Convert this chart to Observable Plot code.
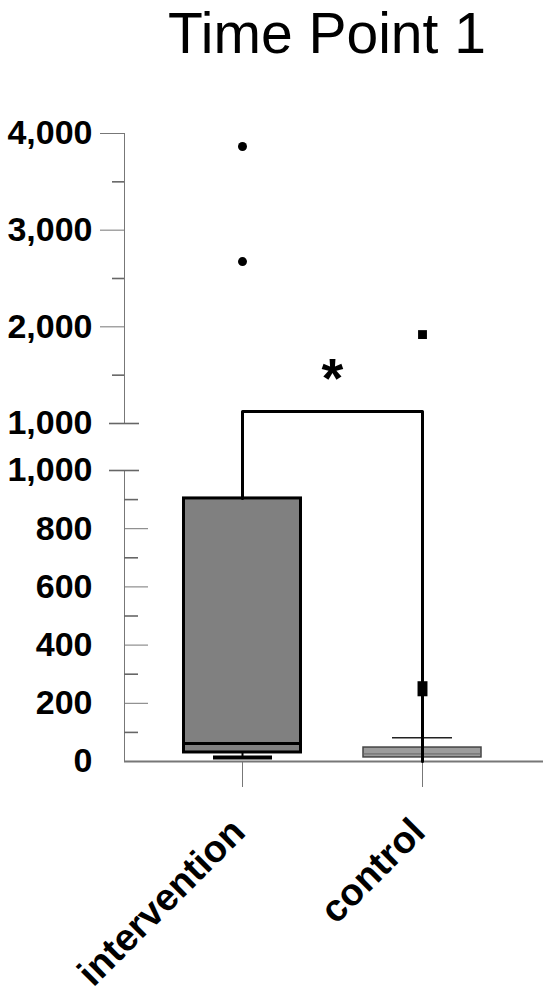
<!DOCTYPE html>
<html><head><meta charset="utf-8">
<script src="https://cdn.jsdelivr.net/npm/d3@7"></script>
<script src="https://cdn.jsdelivr.net/npm/@observablehq/plot@0.6"></script>
<style>
body{margin:0;background:#fff;}
#wrap{position:relative;width:550px;height:994px;font-family:"Liberation Sans",Arial,sans-serif;overflow:hidden;}
#wrap svg{position:absolute;left:0;top:0;}
#title{position:absolute;left:114px;width:426px;text-align:center;top:0;font-size:57px;line-height:normal;color:#000;white-space:nowrap;}
</style></head><body>
<div id="wrap"><div id="title">Time Point 1</div></div>
<script>
// ---- data ----
const categories = ["intervention", "control"];
const q1 = [31, 14];
const median = [62, 26];
const q3 = [904, 48];
const whiskerLow = [14, null];
const whiskerHigh = [null, 82];
const outlierGroup = ["intervention", "intervention", "control"];
const outlierValue = [3865, 2675, 1920];
const outlierShape = ["circle", "circle", "square"];
const markGroup = ["control"];
const markValue = [250];
const bracketLevel = 1124;
const significance = "*";
const topTicks = [1000, 2000, 3000, 4000];
const topMinor = [1500, 2500, 3500];
const bottomTicks = [0, 200, 400, 600, 800, 1000];
const bottomMinor = [100, 300, 500, 700, 900];

// ---- layout ----
const W = 550, H = 994;
const leftM = 124, rightM = 7;
const frameW = W - leftM - rightM;
const topSeg = {top: 133, bottom: 423};
const botSeg = {top: 470, bottom: 761};
const xRange = [152, 512];
const font = "Liberation Sans, Arial, sans-serif";
const tickStroke = "#666";
const axisStroke = "#777";

const boxes = categories.map((c, i) => ({cat: c, q1: q1[i], med: median[i], q3: q3[i], lo: whiskerLow[i], hi: whiskerHigh[i]}));
const outliers = outlierGroup.map((g, i) => ({cat: g, v: outlierValue[i], s: outlierShape[i]}));
const extraMarks = markGroup.map((g, i) => ({cat: g, v: markValue[i]}));

const yBot = Plot.scale({y: {domain: [0, 1000], range: [botSeg.bottom, botSeg.top]}});
const yTop = Plot.scale({y: {domain: [1000, 4000], range: [topSeg.bottom, topSeg.top]}});
const toTop = v => yTop.invert(yBot.apply(v));

const tallRect = {draw(ctx, size) { const s = Math.sqrt(size); const w = s * 0.33, h = s / 2;
  ctx.moveTo(-w, -h); ctx.lineTo(w, -h); ctx.lineTo(w, h); ctx.lineTo(-w, h); ctx.closePath(); }};

const styleBase = {background: "transparent", overflow: "visible", fontFamily: font, color: axisStroke};
const tickRule = (ticks, out, inn) => Plot.ruleY(ticks, {y: d => d, stroke: tickStroke, strokeWidth: 1.6, insetLeft: -out, insetRight: frameW - inn});
const yLabels = ticks => Plot.text(ticks, {y: d => d, text: d => d3.format(",")(d), frameAnchor: "left", dx: -32, textAnchor: "end", fontSize: 34, fontWeight: "bold", fill: "#000"});

const bottomPlot = Plot.plot({
  width: W, height: H,
  marginLeft: leftM, marginRight: rightM, marginTop: botSeg.top, marginBottom: H - botSeg.bottom,
  style: styleBase,
  x: {type: "band", domain: categories, range: xRange, padding: 0, tickSize: 26, tickFormat: () => "", label: null},
  y: {domain: [0, 1000], range: [botSeg.bottom, botSeg.top], ticks: bottomTicks.filter(t => t > 0 && t < 1000), tickSize: -24, tickFormat: () => "", line: true, label: null},
  marks: [
    Plot.barY(boxes.slice(0, 1), {x: "cat", y1: "q1", y2: "q3", fill: "#808080", stroke: "#000", strokeWidth: 3, insetLeft: 31.5, insetRight: 31.5}),
    Plot.tickY(boxes.slice(0, 1), {x: "cat", y: "med", stroke: "#000", strokeWidth: 3, insetLeft: 31.5, insetRight: 31.5}),
    Plot.ruleX(boxes.filter(d => d.lo != null), {x: "cat", y1: "lo", y2: "q1", stroke: "#000", strokeWidth: 2}),
    Plot.tickY(boxes.filter(d => d.lo != null), {x: "cat", y: "lo", stroke: "#000", strokeWidth: 4, insetLeft: 61, insetRight: 60}),
    Plot.barY(boxes.slice(1), {x: "cat", y1: "q1", y2: "q3", fill: "#9c9c9c", stroke: "#444", strokeWidth: 1.5, insetLeft: 31, insetRight: 31}),
    Plot.tickY(boxes.slice(1), {x: "cat", y: "med", stroke: "#666", strokeWidth: 1, insetLeft: 31, insetRight: 31}),
    Plot.tickY(boxes.filter(d => d.hi != null), {x: "cat", y: "hi", stroke: "#222", strokeWidth: 1.5, insetLeft: 60, insetRight: 60}),
    Plot.ruleY([0], {stroke: axisStroke, strokeWidth: 1.8}),
    tickRule(bottomMinor, 0, 14),
    tickRule([1000], 15, 15),
    yLabels(bottomTicks),
    Plot.text(categories, {x: d => d, text: d => d, frameAnchor: "bottom", dy: 64, dx: -4, rotate: -45, textAnchor: "end", lineAnchor: "middle", fontSize: 38, fontWeight: "bold", fill: "#000"})
  ]
});

const bracket = [
  {cat: categories[0], v: toTop(q3[0])},
  {cat: categories[0], v: bracketLevel},
  {cat: categories[1], v: bracketLevel},
  {cat: categories[1], v: toTop(0)}
];

const topPlot = Plot.plot({
  width: W, height: H,
  marginLeft: leftM, marginRight: rightM, marginTop: topSeg.top, marginBottom: H - topSeg.bottom,
  style: styleBase,
  x: {type: "band", domain: categories, range: xRange, padding: 0, axis: null},
  y: {domain: [1000, 4000], range: [topSeg.bottom, topSeg.top], ticks: topTicks.slice(1), tickSize: 24, tickFormat: () => "", line: true, label: null},
  marks: [
    tickRule(topMinor, 12, 0),
    tickRule([1000], 15, 15),
    yLabels(topTicks),
    Plot.line(bracket, {x: "cat", y: "v", stroke: "#000", strokeWidth: 3}),
    Plot.dot(extraMarks, {x: "cat", y: d => toTop(d.v), r: 8.5, symbol: tallRect, fill: "#000", stroke: "none"}),
    Plot.dot(outliers.filter(d => d.s === "circle"), {x: "cat", y: "v", r: 4.5, fill: "#000", stroke: "none", symbol: "circle"}),
    Plot.dot(outliers.filter(d => d.s === "square"), {x: "cat", y: "v", r: 5, fill: "#000", stroke: "none", symbol: "square"}),
    Plot.text([significance], {x: () => categories[1], dx: -90, y: () => bracketLevel + 150, text: d => d, fontSize: 56, fontWeight: "bold", lineAnchor: "bottom", fill: "#000"})
  ]
});

const wrap = document.getElementById("wrap");
wrap.appendChild(bottomPlot);
wrap.appendChild(topPlot);
</script>
</body></html>
